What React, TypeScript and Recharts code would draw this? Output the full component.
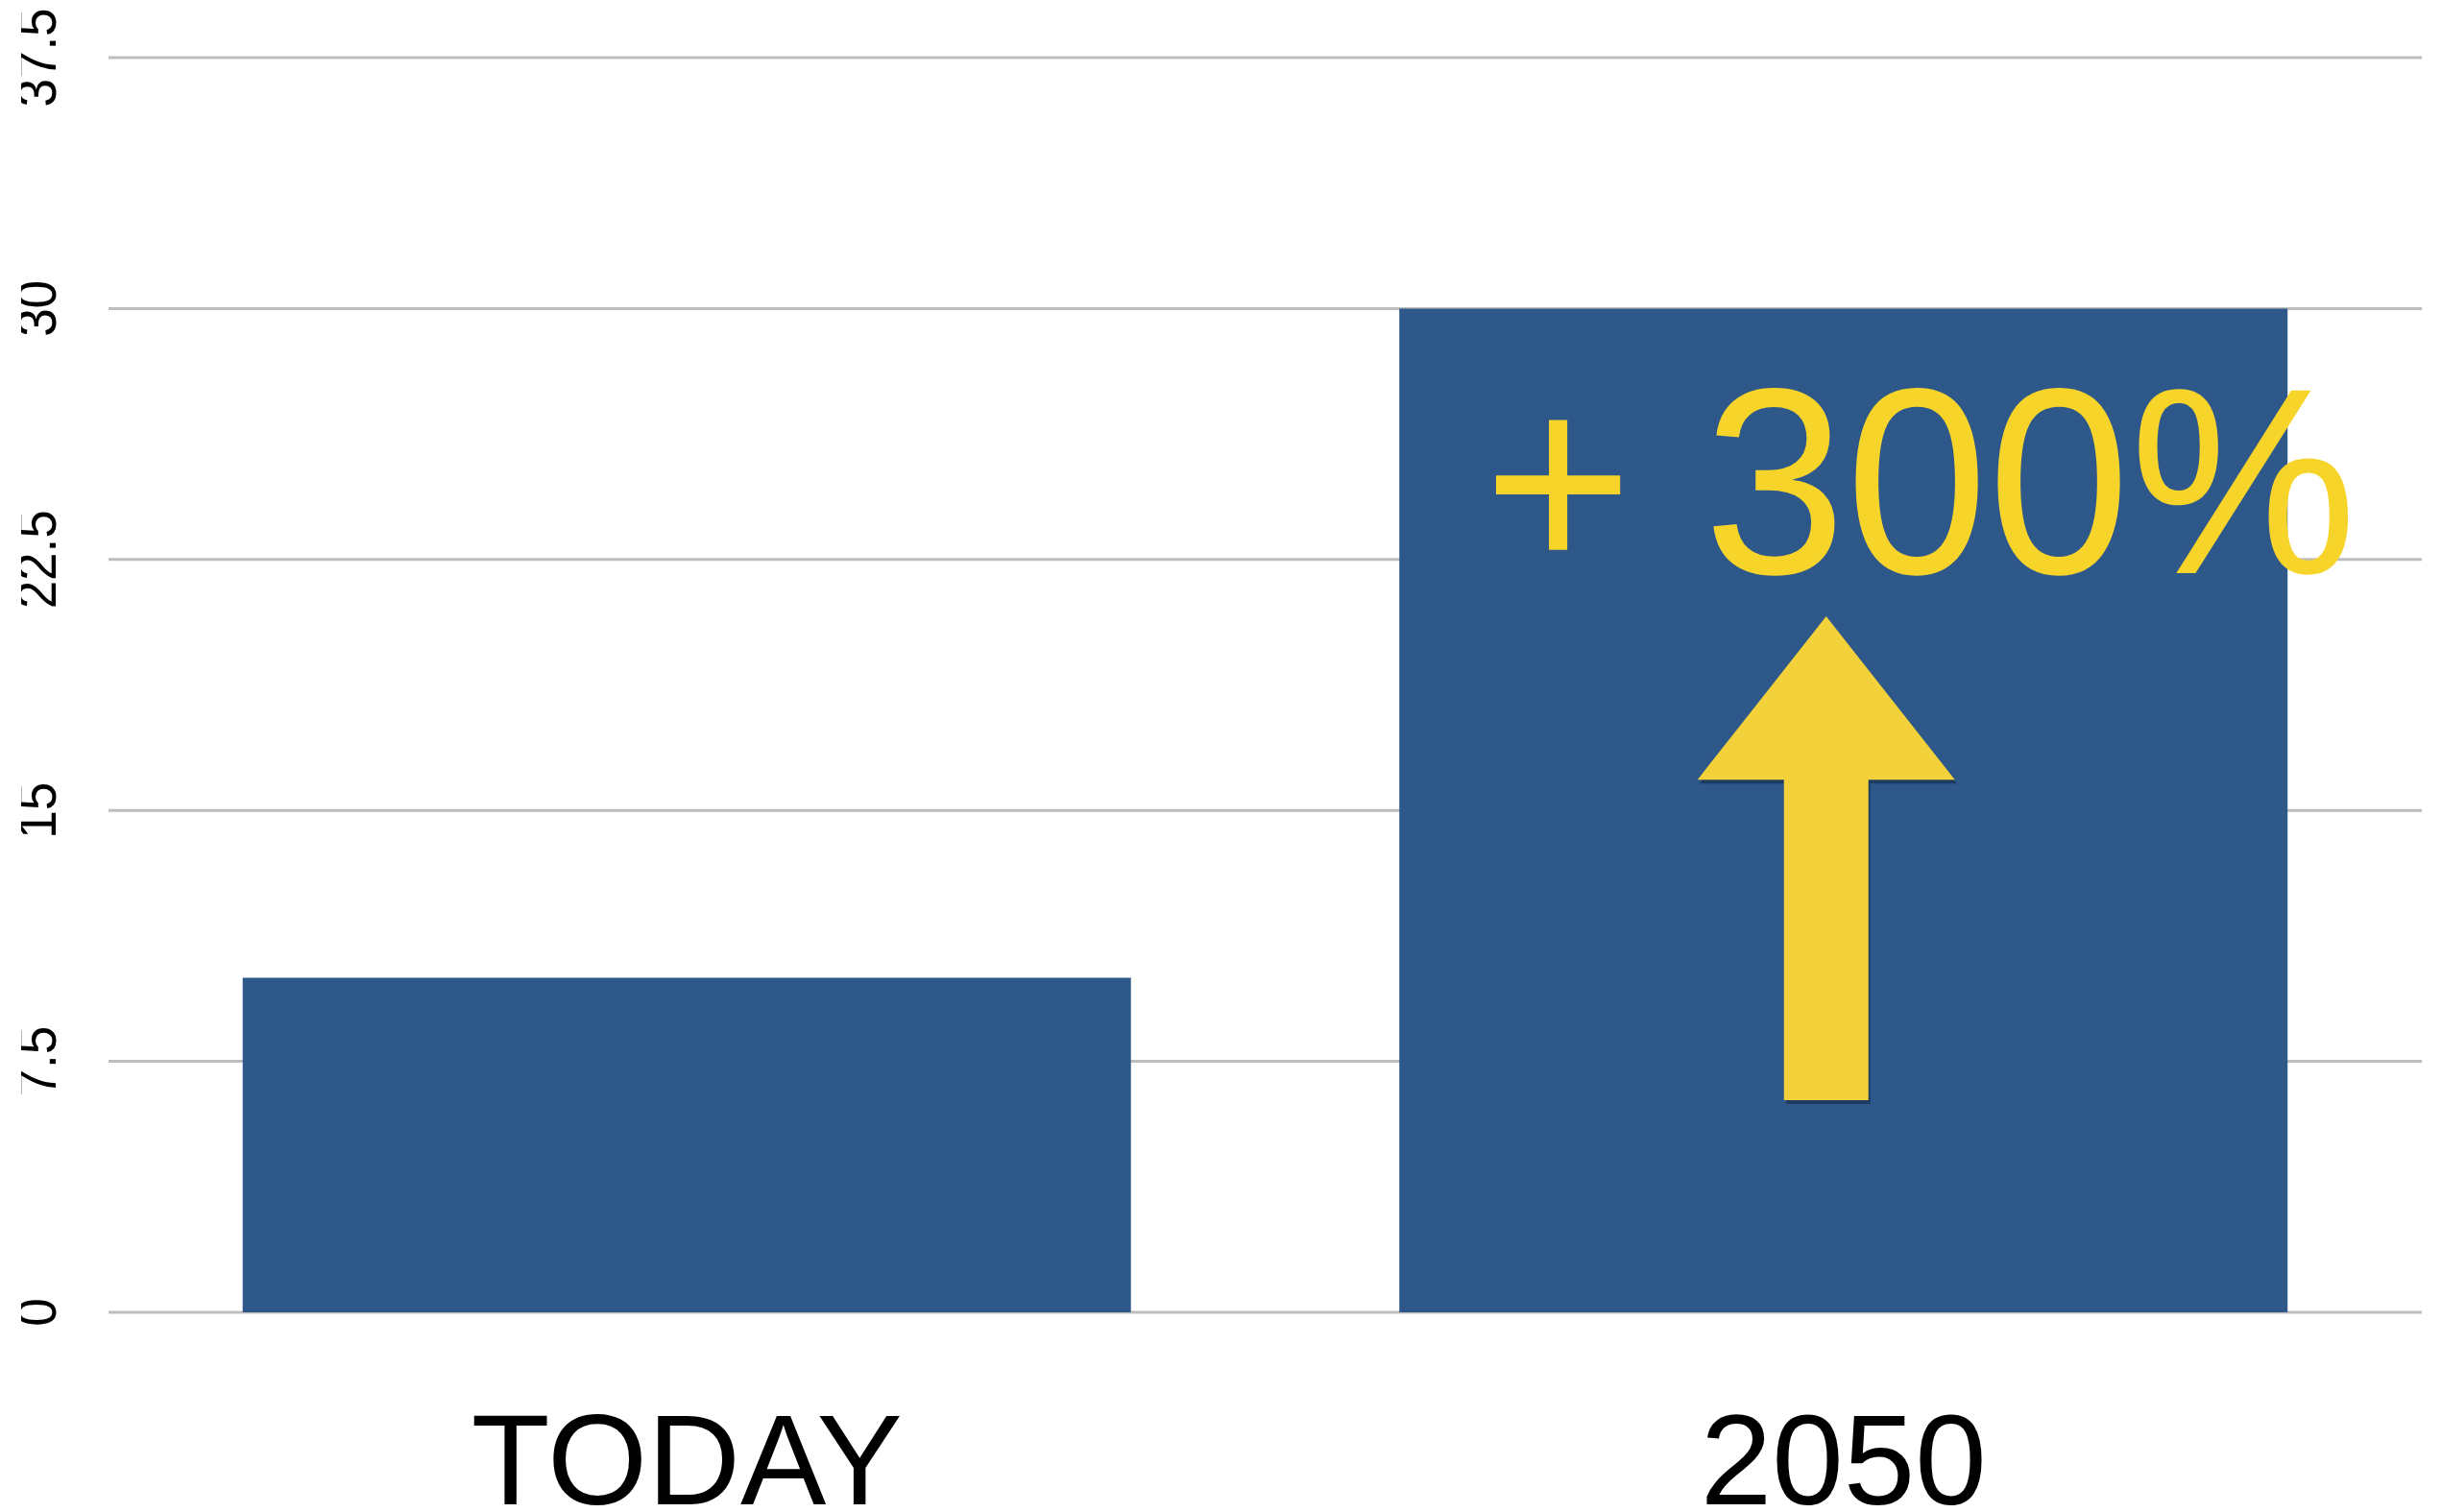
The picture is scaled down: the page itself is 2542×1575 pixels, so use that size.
import { BarChart, Bar, XAxis, YAxis, CartesianGrid, ReferenceLine, ReferenceDot } from "recharts";

const categories = ["TODAY", "2050"];
const values = [10, 30];
const yTicks = [0, 7.5, 15, 22.5, 30, 37.5];
const yDomain = [0, 37.5];

// annotation on the 2050 bar, in data units
const arrowCategory = "2050";
const arrowTip = 20.8;
const arrowHeadBase = 15.92;
const arrowBottom = 6.34;
const growthLabel = "+ 300%";
const growthLabelY = 22.09;

const FONT = "'Liberation Sans', Arial, sans-serif";
const BAR_COLOR = "#2E5889";
const YELLOW = "#F3D13B";

const data = categories.map((name, i) => ({ name, value: values[i] }));

const YTick = ({ y, payload, index }: any) => (
  <g clipPath={`url(#yclip-${index})`}>
    <defs>
      <clipPath id={`yclip-${index}`}>
        <rect x={22} y={y - 90} width={90} height={180} />
      </clipPath>
    </defs>
    <g transform={`translate(58, ${y}) rotate(-90) scale(1, 1.08)`}>
      <text x={0} y={0} textAnchor="middle" fontSize={53} fontFamily={FONT} fill="#000">
        {payload.value}
      </text>
    </g>
  </g>
);

const XTick = ({ x, y, payload }: any) => (
  <text x={x} y={y + 200} textAnchor="middle" fontSize={134} fontFamily={FONT} fill="#000">
    {payload.value}
  </text>
);

// drawn from a vertical segment (x1,y1) bottom -> (x2,y2) tip
const Arrow = (props: any) => {
  const { x1, y1, x2, y2 } = props;
  const top = Math.min(y1, y2);
  const bottom = Math.max(y1, y2);
  const cx = (x1 + x2) / 2 - 18;
  const headY = top + ((bottom - top) * (arrowTip - arrowHeadBase)) / (arrowTip - arrowBottom);
  const hw = 134; // half width of the head
  const sw = 44; // half width of the shaft
  const pts = [
    [cx, top],
    [cx + hw, headY],
    [cx + sw, headY],
    [cx + sw, bottom],
    [cx - sw, bottom],
    [cx - sw, headY],
    [cx - hw, headY],
  ];
  const toStr = (dx: number, dy: number) => pts.map((p) => `${p[0] + dx},${p[1] + dy}`).join(" ");
  return (
    <g>
      <polygon points={toStr(2, 4)} fill="#0B1A30" opacity={0.45} />
      <polygon points={toStr(0, 0)} fill={YELLOW} />
    </g>
  );
};

const GrowthText = ({ cx, cy }: any) => (
  <g transform={`translate(${cx + 80}, ${cy}) scale(1, 1.04)`}>
    <text x={0} y={0} textAnchor="middle" fontSize={266} fontFamily={FONT} fill="#F6D42A">
      {growthLabel}
    </text>
  </g>
);

export default function App() {
  return (
    <div style={{ width: 2542, height: 1575, background: "#fff" }}>
      <style>{`body{margin:0}`}</style>
      <BarChart
        width={2542}
        height={1575}
        data={data}
        margin={{ top: 60, right: 20, left: 0, bottom: 0 }}
        barCategoryGap="11.6%"
      >
        <CartesianGrid vertical={false} stroke="#BDBDBD" strokeWidth={3} />
        <XAxis
          dataKey="name"
          axisLine={false}
          tickLine={false}
          tickSize={0}
          tickMargin={0}
          height={208}
          tick={<XTick />}
          interval={0}
        />
        <YAxis
          domain={yDomain}
          ticks={yTicks}
          width={113}
          axisLine={false}
          tickLine={false}
          tick={<YTick />}
          interval={0}
        />
        <Bar dataKey="value" fill={BAR_COLOR} isAnimationActive={false} />
        <ReferenceLine
          segment={[
            { x: arrowCategory, y: arrowBottom },
            { x: arrowCategory, y: arrowTip },
          ]}
          ifOverflow="visible"
          shape={(p: any) => <Arrow {...p} />}
        />
        <ReferenceDot
          x={arrowCategory}
          y={growthLabelY}
          r={0}
          ifOverflow="visible"
          shape={(p: any) => <GrowthText {...p} />}
        />
      </BarChart>
    </div>
  );
}
